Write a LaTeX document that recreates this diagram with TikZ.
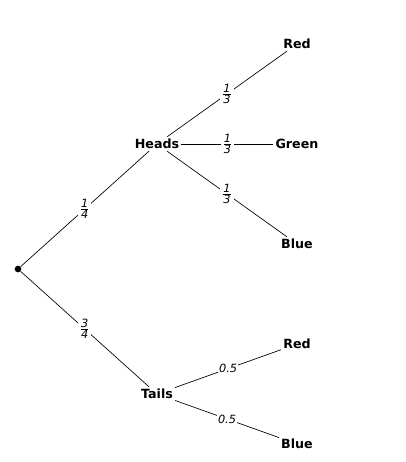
\documentclass[tikz,border=0pt]{standalone}
\usepackage{fontspec}
\setmainfont{DejaVu Sans}
\newcommand{\pfrac}[2]{$\frac{\mbox{\itshape #1}}{\mbox{\itshape #2}}$}

\begin{document}
\begin{tikzpicture}[x=0.75pt,y=-0.75pt]
\tikzset{
  treenode/.style={inner sep=1.5pt,font=\bfseries\fontsize{9.5}{11}\selectfont},
  rootdot/.style={circle,fill=black,inner sep=0pt,minimum size=5pt},
  treeedge/.style={draw=black,line width=0.5pt},
  problabel/.style={midway,fill=white,inner sep=1pt,font=\fontsize{8.5}{10}\selectfont}
}
\useasboundingbox (0,0) rectangle (406,462);
\node[rootdot] (n_root) at (18,269) {};
\node[treenode] (n_H) at (157,144) {Heads};
\node[treenode] (n_T) at (157,394) {Tails};
\node[treenode] (n_HR) at (297,44) {Red};
\node[treenode] (n_HG) at (297,144) {Green};
\node[treenode] (n_HB) at (297,244) {Blue};
\node[treenode] (n_TR) at (297,344) {Red};
\node[treenode] (n_TB) at (297,444) {Blue};
\draw[treeedge] (n_root) -- (n_H) node[problabel] {\pfrac{1}{4}};
\draw[treeedge] (n_root) -- (n_T) node[problabel] {\pfrac{3}{4}};
\draw[treeedge] (n_H) -- (n_HR) node[problabel] {\pfrac{1}{3}};
\draw[treeedge] (n_H) -- (n_HG) node[problabel] {\pfrac{1}{3}};
\draw[treeedge] (n_H) -- (n_HB) node[problabel] {\pfrac{1}{3}};
\draw[treeedge] (n_T) -- (n_TR) node[problabel] {\itshape 0.5};
\draw[treeedge] (n_T) -- (n_TB) node[problabel] {\itshape 0.5};
\end{tikzpicture}
\end{document}
